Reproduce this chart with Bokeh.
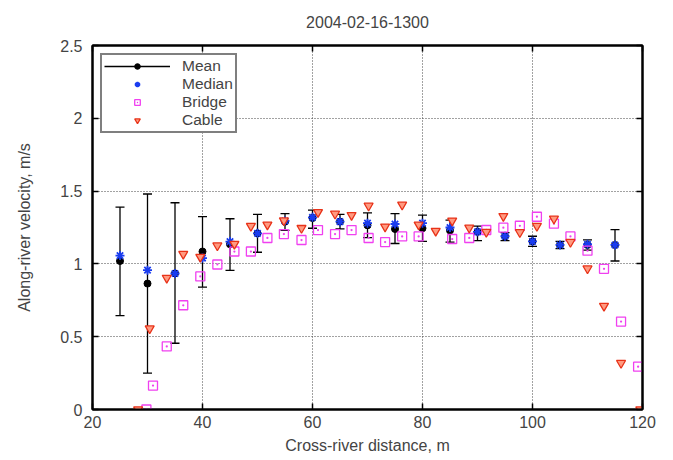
from bokeh.plotting import figure
from bokeh.models import LinearAxis, Range1d, Legend, LegendItem, FixedTicker
from bokeh.embed import file_html
from bokeh.resources import INLINE

FONT = "Liberation Sans"

# Mean with error bars
mean_x = [25, 30, 35, 40, 45, 50, 55, 60, 65, 70, 75, 80, 85, 90, 95, 100, 105, 110, 115]
mean_v = [1.02, 0.865, 0.935, 1.085, 1.135, 1.21, 1.29, 1.315, 1.29, 1.265, 1.24, 1.245, 1.23, 1.22, 1.19, 1.155, 1.13, 1.13, 1.13]
mean_lo = [0.645, 0.25, 0.455, 0.84, 0.955, 1.08, 1.23, 1.245, 1.24, 1.18, 1.14, 1.155, 1.15, 1.16, 1.16, 1.12, 1.105, 1.095, 1.02]
mean_hi = [1.39, 1.48, 1.42, 1.325, 1.31, 1.34, 1.345, 1.37, 1.34, 1.35, 1.345, 1.335, 1.30, 1.26, 1.215, 1.19, 1.155, 1.165, 1.235]

# Median
median_v = [1.057, 0.957, 0.934, 1.04, 1.153, 1.21, 1.295, 1.32, 1.29, 1.28, 1.274, 1.28, 1.25, 1.22, 1.19, 1.155, 1.13, 1.135, 1.13]

# Bridge
bridge_x = [29.8, 31.0, 33.5, 36.5, 39.6, 42.7, 45.8, 48.8, 51.8, 54.8,
            58.0, 61.0, 64.1, 67.1, 70.2, 73.2, 76.3, 79.3,
            85.4, 88.5, 91.6, 94.7, 97.7, 100.8, 103.9, 106.9, 110.0, 113.0,
            116.1, 119.2]
bridge_v = [0.0, 0.164, 0.433, 0.716, 0.914, 0.996, 1.085, 1.085, 1.178, 1.205,
            1.164, 1.232, 1.205, 1.232, 1.178, 1.15, 1.189, 1.189,
            1.171, 1.178, 1.233, 1.249, 1.262, 1.324, 1.276, 1.189, 1.091, 0.966,
            0.604, 0.294]

# Cable
cable_x = [28.3, 30.4, 33.5, 36.5, 39.6, 42.7, 45.8, 48.8, 51.8, 54.8,
           58.0, 61.0, 64.1, 67.1, 70.2, 73.2, 76.3, 79.3, 82.4, 85.4,
           88.5, 91.6, 94.7, 97.7, 100.8, 103.9, 106.9, 110.0, 113.0, 116.1,
           119.6]
cable_v = [0.0, 0.556, 0.904, 1.068, 1.048, 1.126, 1.137, 1.26, 1.269, 1.298,
           1.246, 1.355, 1.344, 1.335, 1.399, 1.256, 1.406, 1.269, 1.226, 1.297,
           1.248, 1.219, 1.328, 1.217, 1.26, 1.31, 1.15, 0.968, 0.711, 0.319,
           0.0]

x_ticks = [20, 40, 60, 80, 100, 120]
y_ticks = [0, 0.5, 1, 1.5, 2, 2.5]
y_tick_labels = {0: "0", 0.5: "0.5", 1: "1", 1.5: "1.5", 2: "2", 2.5: "2.5"}
title_text = "2004-02-16-1300"

p = figure(width=673, height=460, output_backend="svg", toolbar_location=None,
           x_range=Range1d(20, 120), y_range=Range1d(0, 2.5),
           min_border_left=92, min_border_right=31, min_border_top=45, min_border_bottom=51)

p.outline_line_color = "black"
p.outline_line_width = 2

for ax in (p.xaxis[0], p.yaxis[0]):
    ax.axis_line_width = 2
    ax.major_tick_in = 6
    ax.major_tick_out = 0
    ax.major_tick_line_width = 1.5
    ax.minor_tick_line_color = None
    ax.major_label_text_font = FONT
    ax.major_label_text_font_size = "16px"
    ax.axis_label_text_font = FONT
    ax.axis_label_text_font_size = "16px"
    ax.axis_label_text_font_style = "normal"

p.xaxis[0].ticker = FixedTicker(ticks=x_ticks)
p.yaxis[0].ticker = FixedTicker(ticks=y_ticks)
p.yaxis[0].major_label_overrides = y_tick_labels
p.xaxis[0].axis_label = "Cross-river distance, m"
p.yaxis[0].axis_label = "Along-river velocity, m/s"
p.xaxis[0].major_label_standoff = 6
p.xaxis[0].axis_label_standoff = 6
p.yaxis[0].major_label_standoff = 10
p.yaxis[0].axis_label_standoff = 24

# Top axis: ticks only, with the chart title as its label
top_ax = LinearAxis(ticker=FixedTicker(ticks=x_ticks), major_tick_in=6, major_tick_out=0,
                    minor_tick_line_color=None, major_label_overrides={t: "" for t in x_ticks},
                    axis_line_width=2, major_tick_line_width=1.5, major_label_standoff=0,
                    axis_label=title_text, axis_label_text_font=FONT,
                    axis_label_text_font_size="16px", axis_label_text_font_style="normal",
                    axis_label_standoff=18)
right_ax = LinearAxis(ticker=FixedTicker(ticks=y_ticks), major_tick_in=6, major_tick_out=0,
                      minor_tick_line_color=None, major_label_overrides={t: "" for t in y_ticks},
                      axis_line_width=2, major_tick_line_width=1.5, major_label_standoff=0)
p.add_layout(top_ax, "above")
p.add_layout(right_ax, "right")

p.xgrid.ticker = FixedTicker(ticks=x_ticks)
p.ygrid.ticker = FixedTicker(ticks=y_ticks)
for g in (p.xgrid, p.ygrid):
    g.grid_line_color = "#444444"
    g.grid_line_dash = "1 2"
    g.grid_line_width = 1

# Error bars
err = p.segment(x0=mean_x, y0=mean_lo, x1=mean_x, y1=mean_hi, line_color="black", line_width=1.3)
p.scatter(x=mean_x, y=mean_lo, marker="dash", size=9, line_color="black", line_width=1.3)
p.scatter(x=mean_x, y=mean_hi, marker="dash", size=9, line_color="black", line_width=1.3)
mean_r = p.scatter(x=mean_x, y=mean_v, marker="circle", size=7, fill_color="black", line_color="black")

median_r = p.scatter(x=mean_x, y=median_v, marker="asterisk", size=9, line_color="#1a3cf0", line_width=1.8)

bridge_r = p.scatter(x=bridge_x, y=bridge_v, marker="square_dot", size=9, line_color="#f040f0",
                     fill_color=None, line_width=1.3)

cable_r = p.scatter(x=cable_x, y=cable_v, marker="inverted_triangle", size=9, line_color="#e83218",
                    fill_color="#ff9a80", line_width=1.3)

legend = Legend(items=[
    LegendItem(label="Mean", renderers=[err, mean_r]),
    LegendItem(label="Median", renderers=[median_r]),
    LegendItem(label="Bridge", renderers=[bridge_r]),
    LegendItem(label="Cable", renderers=[cable_r]),
], location="top_left")
legend.border_line_color = "black"
legend.border_line_width = 2
legend.label_text_font = FONT
legend.label_text_font_size = "15.5px"
legend.glyph_width = 66
legend.glyph_height = 14
legend.label_height = 14
legend.spacing = 0
legend.padding = 2
legend.margin = 8
legend.label_standoff = 12
legend.background_fill_alpha = 1
p.add_layout(legend)

open("out.html", "w").write(file_html(p, INLINE))
